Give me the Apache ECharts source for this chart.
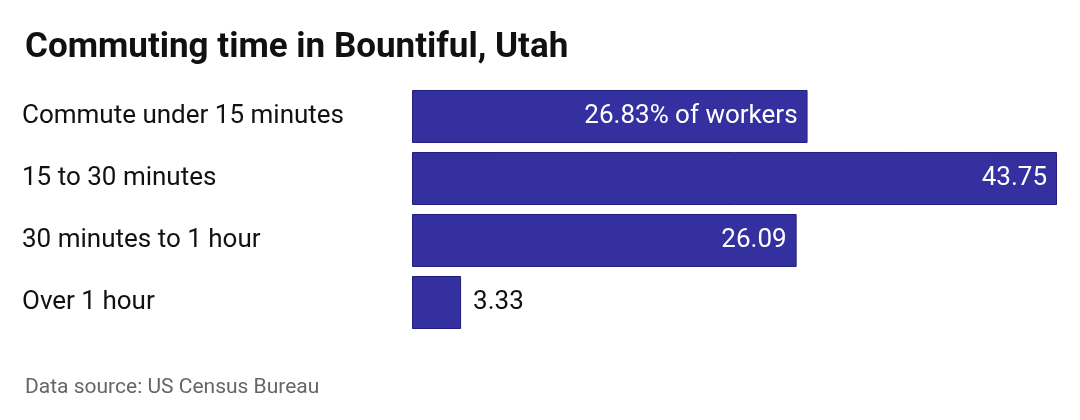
<!DOCTYPE html>
<html><head><meta charset="utf-8">
<script src="https://cdn.jsdelivr.net/npm/echarts@6/dist/echarts.min.js"></script>
<style>html,body{margin:0;background:#fff}#c{width:1080px;height:420px}</style>
</head><body><div id="c"></div>
<script>
const categories = ["Commute under 15 minutes","15 to 30 minutes","30 minutes to 1 hour","Over 1 hour"];
const values = [26.83, 43.75, 26.09, 3.33];
const labels = ["26.83% of workers","43.75","26.09","3.33"];
const chart = echarts.init(document.getElementById('c'));
chart.setOption({
  animation:false,
  title:[{text:"Commuting time in Bountiful, Utah",left:20,top:26,textStyle:{fontFamily:"Roboto",fontWeight:"bold",fontSize:35,color:"#111"}},
         {text:"Data source: US Census Bureau",left:20,top:372,textStyle:{fontFamily:"Roboto",fontWeight:"normal",fontSize:21,color:"#666"}}],
  grid:{left:412,right:23,top:85.5,bottom:86.5},
  xAxis:{type:'value',min:0,max:43.75,show:false},
  yAxis:{type:'category',data:categories,inverse:true,axisLine:{show:false},axisTick:{show:false},
    axisLabel:{align:'left',margin:390,fontFamily:"Roboto",fontSize:26,color:"#111"}},
  series:[{type:'bar',barCategoryGap:'14.5%',
    data:values.map((v,i)=>({value:v,label:i===3?{position:'right',color:'#111',distance:12}:{position:'insideRight',color:'#fff',distance:10}})),
    itemStyle:{color:'#3430a0',borderColor:'#221e80',borderWidth:1},
    label:{show:true,fontFamily:"Roboto",fontSize:26,formatter:p=>labels[p.dataIndex]}}]
});
</script></body></html>
